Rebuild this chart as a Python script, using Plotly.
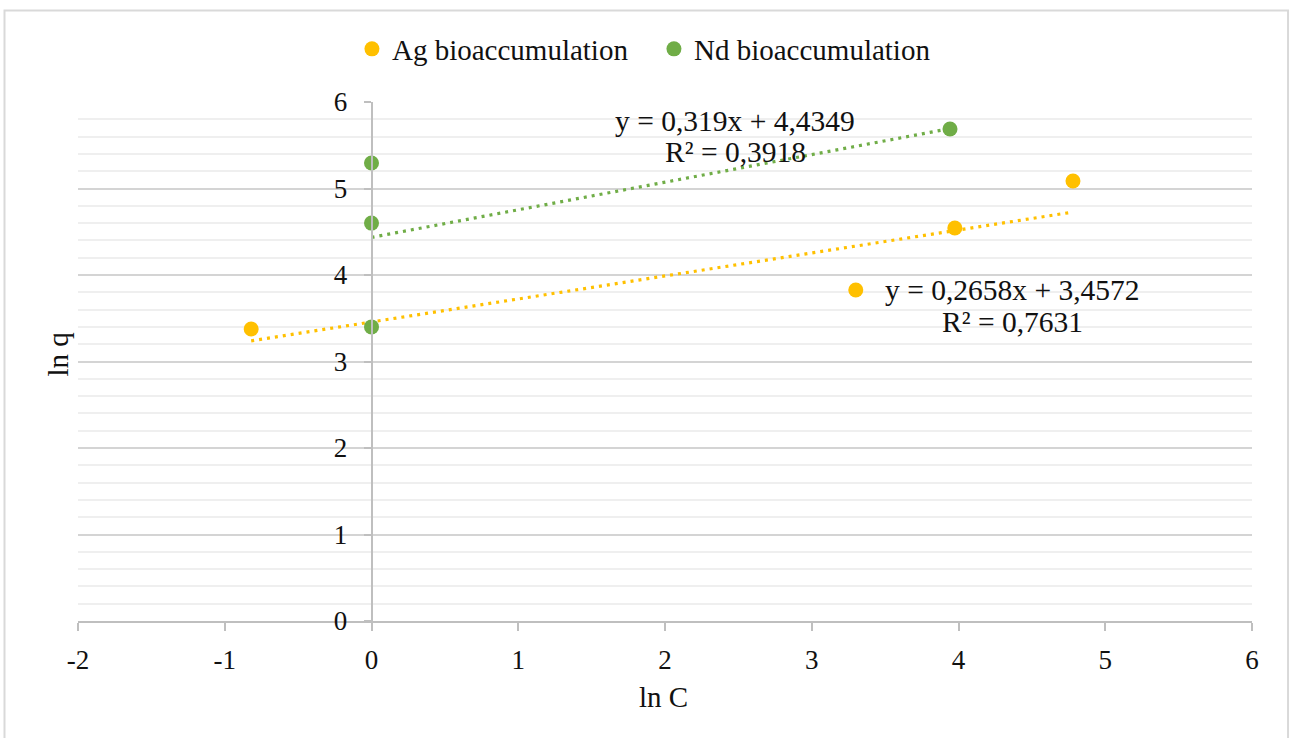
import plotly.graph_objects as go

# Observed ln C / ln q pairs for each metal
ag_lnC = [-0.82, 3.30, 3.975, 4.78]
ag_lnq = [3.376, 3.827, 4.543, 5.087]
nd_lnC = [0.0, 0.0, 0.0, 3.942]
nd_lnq = [5.295, 4.60, 3.40, 5.688]

series_names = ["Ag bioaccumulation", "Nd bioaccumulation"]
series_colors = ["#FFC000", "#70AD47"]

# Linear fits (slope, intercept, R²) per series
fit_slope = [0.2658, 0.319]
fit_intercept = [3.4572, 4.4349]
fit_r2 = [0.7631, 0.3918]

x_ticks = [-2, -1, 0, 1, 2, 3, 4, 5, 6]
x_tick_labels = ["-2", "-1", "0", "1", "2", "3", "4", "5", "6"]
y_ticks = [0, 1, 2, 3, 4, 5, 6]
y_tick_labels = ["0", "1", "2", "3", "4", "5", "6"]

SERIF = "Liberation Serif, Times New Roman, serif"
TXT = "#111111"
AXIS = "#BFBFBF"


def comma(v):
    return str(v).replace(".", ",")


fig = go.Figure()

xs_all = [ag_lnC, nd_lnC]
ys_all = [ag_lnq, nd_lnq]

# fitted trendlines, spanning each series' x range
for i in range(2):
    x0, x1 = min(xs_all[i]), max(xs_all[i])
    fig.add_trace(go.Scatter(
        x=[x0, x1],
        y=[fit_slope[i] * x0 + fit_intercept[i], fit_slope[i] * x1 + fit_intercept[i]],
        mode="lines",
        line=dict(color=series_colors[i], width=3.2, dash="3px,5px"),
        showlegend=False, hoverinfo="skip",
    ))

# data points
for i in range(2):
    fig.add_trace(go.Scatter(
        x=xs_all[i], y=ys_all[i], mode="markers", name=series_names[i],
        marker=dict(color=series_colors[i], size=15, line=dict(width=0)),
    ))

# equation / R² labels
eq_pos = [(4.371, 3.827, 3.457), (2.477, 5.78, 5.42)]
annotations = []
for i in range(2):
    ex, ey, ry = eq_pos[i]
    annotations.append(dict(
        x=ex, y=ey, xref="x", yref="y", showarrow=False,
        text=f"y = {comma(fit_slope[i])}x + {comma(fit_intercept[i])}",
        font=dict(family=SERIF, size=29.5, color=TXT),
    ))
    annotations.append(dict(
        x=ex, y=ry, xref="x", yref="y", showarrow=False,
        text=f"R² = {comma(fit_r2[i])}",
        font=dict(family=SERIF, size=29.5, color=TXT),
    ))

# axis titles
annotations.append(dict(
    x=-0.0166, y=0.5125, xref="paper", yref="paper", showarrow=False,
    xanchor="center", yanchor="middle",
    text="ln q", textangle=-90, font=dict(family=SERIF, size=29, color=TXT),
))
annotations.append(dict(
    x=0.499, y=-0.1465, xref="paper", yref="paper", showarrow=False,
    xanchor="center", yanchor="middle",
    text="ln C", font=dict(family=SERIF, size=29, color=TXT),
))

fig.update_layout(
    width=1293, height=738,
    margin=dict(l=78, r=41, t=102, b=117, autoexpand=False),
    paper_bgcolor="white", plot_bgcolor="white",
    font=dict(family=SERIF, color=TXT),
    showlegend=True,
    legend=dict(
        orientation="h", xref="container", yref="container",
        x=0.2722, xanchor="left", y=0.9336, yanchor="middle",
        font=dict(family=SERIF, size=29, color=TXT),
        itemwidth=30, entrywidth=257, entrywidthmode="pixels",
        bgcolor="rgba(0,0,0,0)",
    ),
    xaxis=dict(
        domain=[0, 1], range=[-2, 6], tickvals=x_ticks, ticktext=x_tick_labels,
        showline=True, linecolor=AXIS, linewidth=1.5,
        ticks="outside", ticklen=8, tickcolor=AXIS, tickwidth=1.5,
        showgrid=False, zeroline=False,
        tickfont=dict(family=SERIF, size=27, color=TXT),
        ticklabelstandoff=6,
    ),
    yaxis=dict(
        range=[0, 6], tickvals=y_ticks, ticktext=y_tick_labels,
        anchor="free", position=0.25,
        showline=True, linecolor=AXIS, linewidth=1.5,
        ticks="outside", ticklen=7, tickcolor=AXIS, tickwidth=1.5,
        showgrid=True, gridcolor="#D4D4D4", gridwidth=1.5,
        minor=dict(dtick=0.2, showgrid=True, gridcolor="#EFEFEF", gridwidth=1.5),
        zeroline=False,
        tickfont=dict(family=SERIF, size=27, color=TXT),
        ticklabelstandoff=11,
    ),
    annotations=annotations,
    shapes=[dict(
        type="rect", xref="paper", yref="paper",
        x0=-0.0626, x1=1.0307, y0=-0.245, y1=1.1763,
        line=dict(color="#D9D9D9", width=2), fillcolor="rgba(0,0,0,0)", layer="below",
    )],
)

fig.write_html("out.html")
